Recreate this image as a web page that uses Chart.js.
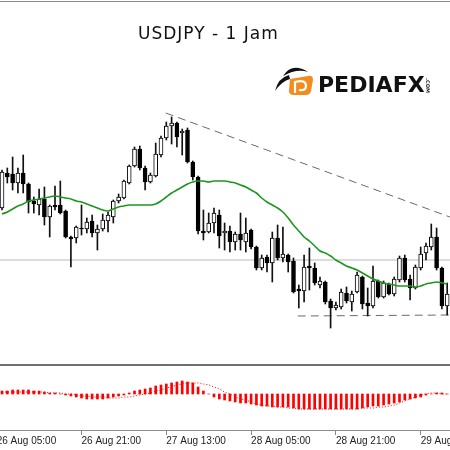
<!DOCTYPE html>
<html>
<head>
<meta charset="utf-8">
<script src="https://cdn.jsdelivr.net/npm/chart.js@4.4.1/dist/chart.umd.min.js"></script>
<style>
html, body { margin:0; padding:0; background:#fff; width:450px; height:450px; overflow:hidden; position:relative; }
canvas { position:absolute; left:0; }
#main { top:0; }
#osc { top:366px; }
.rule { position:absolute; left:0; width:450px; z-index:2; }
#title { position:absolute; left:138px; top:25px; font:17px/17px 'DejaVu Sans', sans-serif; letter-spacing:1px; color:#111; white-space:nowrap; z-index:3; }
#brand { position:absolute; left:318px; top:74px; font:bold 22px/22px 'DejaVu Sans', sans-serif; color:#111; white-space:nowrap; z-index:3; }
#com { position:absolute; left:420px; top:83px; font:bold 5px/5px 'DejaVu Sans', sans-serif; color:#222; transform:rotate(90deg); z-index:3; }
#logo { position:absolute; left:273px; top:62px; z-index:3; }
</style>
</head>
<body>
<div class="rule" style="top:1px;height:1px;background:#8a8a8a"></div>
<div class="rule" style="top:364px;height:2px;background:#6e6e6e"></div>
<canvas id="main" width="450" height="366"></canvas>
<canvas id="osc" width="450" height="84"></canvas>
<div id="title">USDJPY - 1 Jam</div>
<svg id="logo" width="42" height="36" viewBox="0 0 42 36">
  <path d="M2 29 Q5 16 16 13 L17 17 Q9 19 2 29 Z" fill="#111"/>
  <path d="M10 14 Q19 0 35 10 Q24 6 10 14 Z" fill="#111"/>
  <path d="M17 17 L35 14 Q40 13 40 18 L38 29 Q37 33 33 33 L21 33 Q16 33 16 29 Z" fill="#f28c1e"/>
  <path d="M22 31 L22 20 Q33 17 33 24 Q33 29 26 28" fill="none" stroke="#fff" stroke-width="2.2"/>
</svg>
<div id="brand">PEDIAFX</div>
<div id="com">.COM</div>
<script>
// hourly candles, 26 Aug 06:00 onwards
const openP  = [106.92,107.27,107.26,107.17,107.27,107.16,106.99,106.95,107.01,106.83,
                106.95,106.95,106.89,106.63,106.62,106.72,106.71,106.79,106.67,106.71,
                106.79,106.83,106.99,107.02,107.17,107.34,107.51,107.32,107.18,107.24,
                107.45,107.62,107.74,107.77,107.67,107.70,107.38,107.23,106.69,106.68,
                106.77,106.85,106.67,106.69,106.58,106.66,106.58,106.70,106.53,106.32,
                106.43,106.37,106.62,106.42,106.45,106.39,106.11,106.09,106.34,106.32,
                106.15,106.18,105.99,105.92,105.93,106.07,105.98,106.08,106.23,105.97,
                105.94,106.19,106.03,106.16,106.06,106.20,106.42,106.21,106.12,106.32,
                106.47,106.53,106.63,106.32,105.94];
const highP  = [107.30,107.32,107.43,107.32,107.45,107.17,107.03,107.11,107.13,106.95,
                107.14,107.19,106.90,106.64,106.74,106.95,106.82,106.85,106.75,106.86,
                106.88,107.00,107.06,107.20,107.35,107.53,107.54,107.34,107.27,107.57,
                107.64,107.78,107.83,107.78,107.71,107.72,107.39,107.24,106.90,106.87,
                106.92,106.90,106.77,106.74,106.68,106.87,106.82,106.71,106.54,106.45,
                106.45,106.68,106.75,106.73,106.46,106.42,106.15,106.45,106.52,106.37,
                106.23,106.19,106.01,105.98,106.11,106.13,106.09,106.28,106.24,106.12,
                106.34,106.20,106.19,106.17,106.23,106.44,106.45,106.25,106.35,106.53,
                106.57,106.76,106.72,106.33,106.17];
const lowP   = [106.90,107.17,107.10,107.07,107.07,106.87,106.87,106.85,106.75,106.63,
                106.90,106.86,106.62,106.33,106.57,106.65,106.67,106.63,106.50,106.69,
                106.68,106.77,106.97,107.01,107.16,107.33,107.30,107.10,107.17,107.23,
                107.43,107.60,107.56,107.53,107.45,107.37,107.20,106.66,106.60,106.67,
                106.67,106.52,106.50,106.48,106.50,106.50,106.48,106.51,106.30,106.30,
                106.28,106.18,106.40,106.38,106.28,106.07,105.92,105.98,106.10,106.15,
                106.12,105.96,105.72,105.90,105.91,105.97,105.89,106.07,105.91,105.84,
                105.92,106.02,106.02,106.05,106.04,106.18,106.18,106.00,106.11,106.30,
                106.40,106.50,106.30,105.91,105.85];
const closeP = [107.28,107.23,107.17,107.27,107.16,106.98,106.96,107.01,106.83,106.94,
                106.93,106.87,106.63,106.61,106.73,106.71,106.78,106.67,106.71,106.80,
                106.85,106.99,107.03,107.19,107.34,107.51,107.32,107.18,107.25,107.46,
                107.62,107.74,107.77,107.63,107.69,107.38,107.23,106.69,106.67,106.77,
                106.87,106.64,106.69,106.58,106.66,106.60,106.67,106.53,106.32,106.42,
                106.37,106.62,106.42,106.46,106.38,106.08,106.09,106.33,106.32,106.17,
                106.19,105.98,105.92,105.95,106.08,105.99,106.06,106.25,105.96,105.94,
                106.19,106.03,106.17,106.06,106.21,106.42,106.20,106.12,106.33,106.46,
                106.54,106.63,106.32,105.94,106.06];
const maLine = [106.86,106.88,106.91,106.94,106.96,106.99,107.00,107.01,107.02,107.03,
                107.04,107.03,107.02,107.01,106.99,106.98,106.96,106.94,106.92,106.90,
                106.89,106.91,106.93,106.94,106.95,106.95,106.95,106.95,106.95,106.96,
                106.99,107.03,107.07,107.10,107.13,107.16,107.18,107.19,107.19,107.18,
                107.19,107.19,107.19,107.18,107.17,107.15,107.13,107.10,107.07,107.02,
                106.98,106.95,106.92,106.88,106.82,106.75,106.69,106.63,106.59,106.54,
                106.49,106.47,106.44,106.40,106.37,106.34,106.32,106.30,106.27,106.24,
                106.21,106.19,106.17,106.16,106.15,106.14,106.14,106.14,106.13,106.14,
                106.16,106.17,106.18,106.17,106.16];
const macdHist = [0.03,0.03,0.04,0.04,0.04,0.04,0.03,0.03,0.02,0.01,
                  0.01,0,-0.01,-0.02,-0.03,-0.04,-0.05,-0.05,-0.05,-0.05,
                  -0.04,-0.03,-0.02,-0.01,0.01,0.03,0.04,0.05,0.06,0.08,
                  0.09,0.10,0.11,0.12,0.13,0.12,0.11,0.07,0.03,0,
                  -0.03,-0.05,-0.06,-0.07,-0.08,-0.09,-0.09,-0.10,-0.11,-0.12,
                  -0.12,-0.13,-0.13,-0.13,-0.13,-0.14,-0.15,-0.15,-0.15,-0.15,
                  -0.15,-0.15,-0.15,-0.15,-0.15,-0.15,-0.15,-0.15,-0.14,-0.13,
                  -0.12,-0.12,-0.11,-0.10,-0.09,-0.08,-0.06,-0.05,-0.04,-0.03,
                  -0.01,0,0.01,0.01,0];
const macdSignal = [0.02,0.02,0.02,0.02,0.02,0.02,0.02,0.02,0.02,0.01,
                    0.01,0.01,0,0,-0.01,-0.02,-0.02,-0.03,-0.03,-0.03,
                    -0.04,-0.04,-0.04,-0.03,-0.03,-0.02,-0.01,0,0.01,0.03,
                    0.04,0.06,0.07,0.09,0.10,0.11,0.11,0.11,0.10,0.09,
                    0.07,0.05,0.02,0,-0.03,-0.05,-0.06,-0.08,-0.10,-0.11,
                    -0.12,-0.12,-0.13,-0.13,-0.14,-0.14,-0.15,-0.15,-0.15,-0.15,
                    -0.15,-0.15,-0.15,-0.15,-0.15,-0.15,-0.15,-0.15,-0.14,-0.14,
                    -0.14,-0.13,-0.13,-0.12,-0.11,-0.09,-0.07,-0.05,-0.03,-0.01,
                    0,0.01,0.01,0,0];
const supportLevel = 106.40;
const upperTrend = [{x:30.9, y:107.87}, {x:84.5, y:106.83}];
const lowerTrend = [{x:55.8, y:105.84}, {x:84.5, y:105.85}];
const tickPositions = [-1, 15, 31, 47, 63, 79];
const tickLabels = ['26 Aug 05:00', '26 Aug 21:00', '27 Aug 13:00', '28 Aug 05:00', '28 Aug 21:00', '29 Aug 13:00'];

const xMin = -0.38, xMax = 84.53;

var bodies = openP.map((o, i) => ({x: i, y: [o, closeP[i]]}));
var wicks  = lowP.map((l, i) => ({x: i, y: [l, highP[i]]}));
var bodyColors = openP.map((o, i) => closeP[i] >= o ? '#ffffff' : '#000000');

var common = {
    responsive: false,
    animation: false,
    layout: { padding: 0, autoPadding: false },
    plugins: { legend: { display: false }, tooltip: { enabled: false } }
};

new Chart(document.getElementById('main'), {
    type: 'bar',
    data: {
        datasets: [
            { type: 'line', data: maLine.map((v, i) => ({x: i, y: v})), borderColor: '#1e961e', borderWidth: 1.6,
              pointRadius: 0, cubicInterpolationMode: 'monotone', order: 0 },
            { data: bodies, backgroundColor: bodyColors, borderColor: '#000', borderWidth: 1, borderSkipped: false,
              barThickness: 4, grouped: false, order: 1 },
            { data: wicks, backgroundColor: '#111', barThickness: 1, grouped: false, order: 2 },
            { type: 'line', data: [{x: xMin, y: supportLevel}, {x: xMax, y: supportLevel}], borderColor: '#d0d0d0',
              borderWidth: 1.5, pointRadius: 0, order: 3 },
            { type: 'line', data: upperTrend, borderColor: '#6a6a6a', borderWidth: 1, borderDash: [8, 5], pointRadius: 0, order: 3 },
            { type: 'line', data: lowerTrend, borderColor: '#6a6a6a', borderWidth: 1, borderDash: [8, 5], pointRadius: 0, order: 3 }
        ]
    },
    options: Object.assign({}, common, {
        scales: {
            x: { type: 'linear', min: xMin, max: xMax, display: false, offset: false, grid: { offset: false } },
            y: { min: 105.34, max: 109.00, display: false }
        }
    })
});

new Chart(document.getElementById('osc'), {
    type: 'bar',
    data: {
        datasets: [
            { type: 'line', data: macdSignal.map((v, i) => ({x: i, y: v})), borderColor: '#ff0000', borderWidth: 1,
              borderDash: [1, 2], pointRadius: 0, cubicInterpolationMode: 'monotone', order: 0 },
            { data: macdHist.map((v, i) => ({x: i, y: v})), backgroundColor: '#ff0000', barThickness: 2, order: 1 }
        ]
    },
    options: Object.assign({}, common, {
        scales: {
            x: {
                type: 'linear', min: xMin, max: xMax, offset: false,
                afterBuildTicks: function(s) { s.ticks = tickPositions.map(v => ({value: v})); },
                afterFit: function(s) {
                    // keep the plot full width, labels may run off the edges
                    s.height = 20;
                    s.paddingLeft = 0;
                    s.paddingRight = 0;
                },
                ticks: {
                    autoSkip: false, maxRotation: 0, align: 'start', padding: 0, color: '#222',
                    font: { family: 'Liberation Sans', size: 10 },
                    callback: function(v, i) { return tickLabels[i]; }
                },
                grid: { drawOnChartArea: false, drawTicks: true, tickLength: 5, color: '#888', offset: false },
                border: { color: '#8c8c8c', width: 1 }
            },
            y: { min: -0.36, max: 0.28, display: false }
        }
    })
});
</script>
</body>
</html>
